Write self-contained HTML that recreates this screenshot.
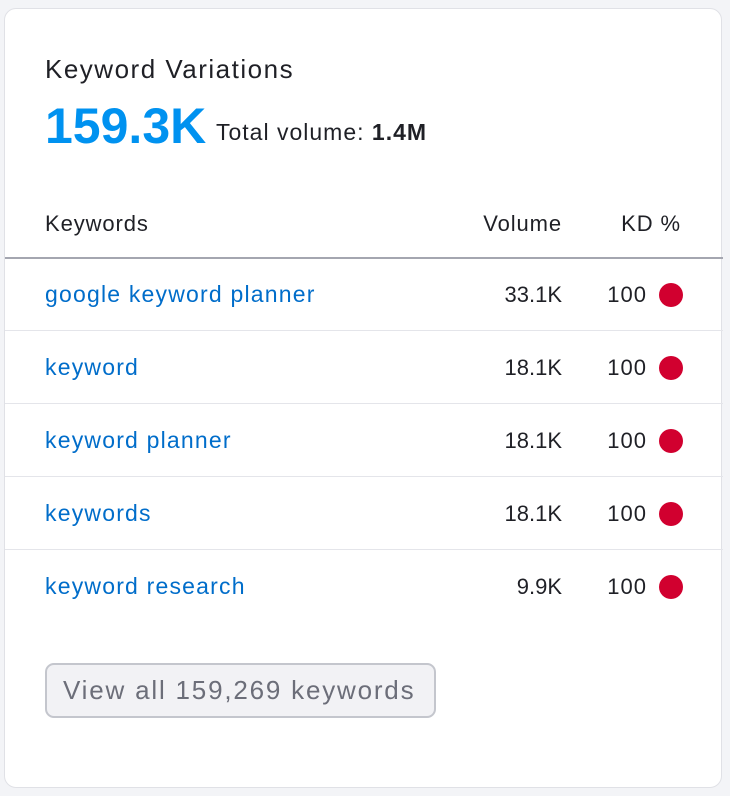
<!DOCTYPE html>
<html><head><style>
body{margin:0;width:730px;height:796px;background:#f3f4f7;font-family:"Liberation Sans",sans-serif;position:relative;overflow:hidden}
.card{position:absolute;left:4px;top:8px;width:718px;height:780px;background:#fff;border-radius:12px;border:1px solid #e0e1e6;box-sizing:border-box}
.t{position:absolute;white-space:nowrap;line-height:1}
.row{position:absolute;left:0;width:718px;height:1px;background:#e4e5ea}
.dot{position:absolute;width:24px;height:24px;border-radius:50%;background:#d1002f}
.kw{color:#006dca;font-size:23px;letter-spacing:1.2px}
.v{font-size:22px;color:#1f2026;text-align:right}
.h{font-size:22px;color:#1f2026;letter-spacing:0.9px}
</style></head><body>
<div class="card">
<div class="t" style="left:40px;top:47px;font-size:26px;color:#1f2026;letter-spacing:1.5px">Keyword Variations</div>
<div class="t" style="left:40px;top:92px;font-size:50px;font-weight:bold;color:#0092f0">159.3K</div>
<div class="t" style="left:211px;top:112px;font-size:23px;color:#1f2026;letter-spacing:1px">Total volume: <b>1.4M</b></div>
<div class="t h" style="left:40px;top:204px">Keywords</div>
<div class="t h" style="right:159px;top:204px">Volume</div>
<div class="t h" style="right:40px;top:204px">KD %</div>
<div class="row" style="top:248px;height:2px;background:#a4a6b0"></div>

<div class="t kw" style="left:40px;top:274px">google keyword planner</div>
<div class="t v" style="right:159px;top:275px">33.1K</div>
<div class="t v" style="right:74px;top:275px;letter-spacing:1px">100</div>
<div class="dot" style="left:654px;top:274px"></div>
<div class="row" style="top:321px"></div>

<div class="t kw" style="left:40px;top:347px">keyword</div>
<div class="t v" style="right:159px;top:348px">18.1K</div>
<div class="t v" style="right:74px;top:348px;letter-spacing:1px">100</div>
<div class="dot" style="left:654px;top:347px"></div>
<div class="row" style="top:394px"></div>

<div class="t kw" style="left:40px;top:420px">keyword planner</div>
<div class="t v" style="right:159px;top:421px">18.1K</div>
<div class="t v" style="right:74px;top:421px;letter-spacing:1px">100</div>
<div class="dot" style="left:654px;top:420px"></div>
<div class="row" style="top:467px"></div>

<div class="t kw" style="left:40px;top:493px">keywords</div>
<div class="t v" style="right:159px;top:494px">18.1K</div>
<div class="t v" style="right:74px;top:494px;letter-spacing:1px">100</div>
<div class="dot" style="left:654px;top:493px"></div>
<div class="row" style="top:540px"></div>

<div class="t kw" style="left:40px;top:566px">keyword research</div>
<div class="t v" style="right:159px;top:567px">9.9K</div>
<div class="t v" style="right:74px;top:567px;letter-spacing:1px">100</div>
<div class="dot" style="left:654px;top:566px"></div>

<div style="position:absolute;left:40px;top:654px;width:391px;height:55px;box-sizing:border-box;border:2px solid #c4c6cd;border-radius:9px;background:#f2f2f5"></div>
<div class="t" style="left:58px;top:668px;font-size:26px;color:#6c6e79;letter-spacing:1.8px">View all 159,269 keywords</div>
</div>
</body></html>
